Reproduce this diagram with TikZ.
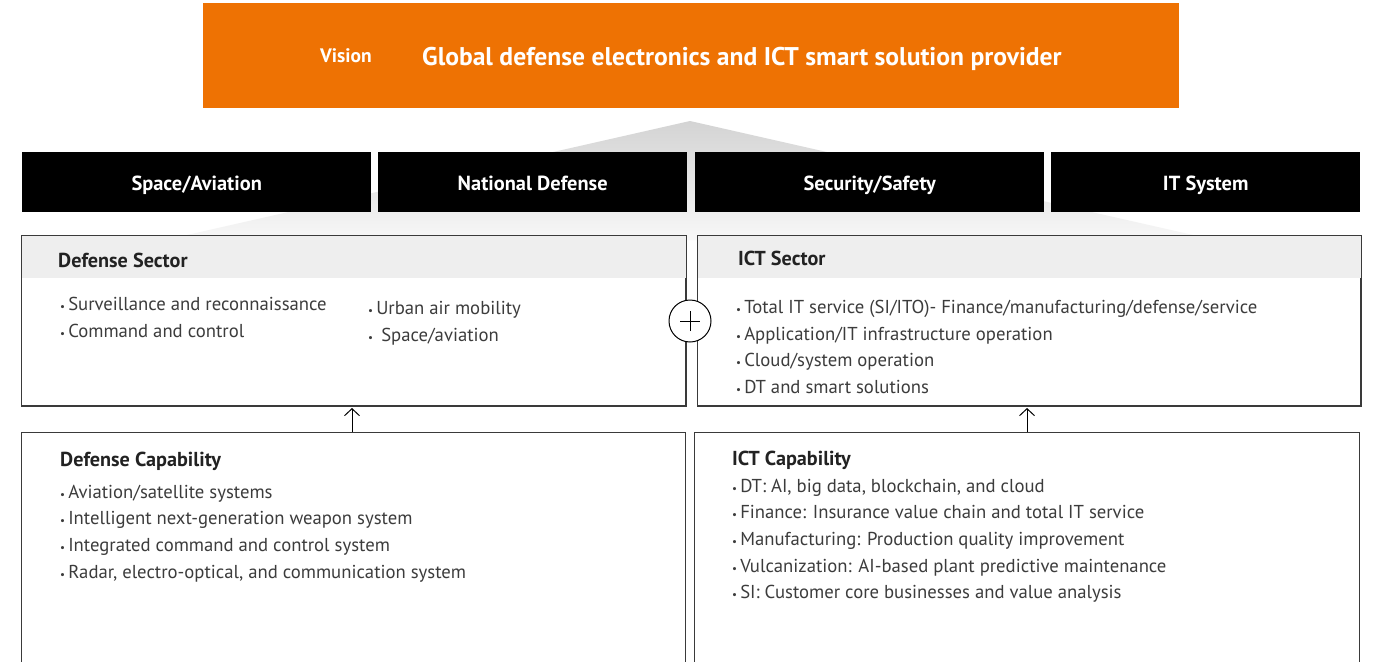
\documentclass[tikz,border=0pt]{standalone}
\usepackage{fontspec}
\setmainfont{PT Sans}
\usetikzlibrary{arrows.meta}
\definecolor{vorange}{HTML}{EE7203}
\definecolor{txt}{HTML}{3C3C3C}
\definecolor{ttl}{HTML}{222222}
\definecolor{hdr}{HTML}{EEEEEE}
\definecolor{bord}{HTML}{3A3A3A}
\newcommand\mybul{{\fontsize{11}{11}\selectfont•}\,}
\tikzset{
  box/.style={draw=bord, line width=1pt, fill=white, anchor=north west, inner sep=0pt},
  outline/.style={draw=bord, line width=1pt},
  bar/.style={fill=black, text=white, font=\fontsize{20.4}{22}\selectfont\bfseries, anchor=north west, inner sep=0pt, minimum height=60pt, text height=20pt, text depth=4pt},
  boxtitle/.style={anchor=west, text=ttl, font=\fontsize{20.2}{22}\selectfont\bfseries, inner sep=0pt, text height=18pt, text depth=4pt},
  item/.style={anchor=west, text=txt, font=\fontsize{18.7}{20}\selectfont, inner sep=0pt, text height=19pt, text depth=4pt},
  arr/.style={draw=black, line width=1pt, -{Straight Barb[length=7pt,width=15pt,line width=1pt]}},
}
\begin{document}
\begin{tikzpicture}[x=1pt,y=-1pt]
\clip (0,0) rectangle (1375,661);
\fill[white] (0,0) rectangle (1375,661);
% roof
\shade[top color=black!17, bottom color=black!3] (690,121) -- (1215,240) -- (165,240) -- cycle;
% vision
\node[fill=vorange, anchor=north west, minimum width=976pt, minimum height=105pt, inner sep=0pt] (vis) at (203,3) {};
\node[anchor=west, text=white, font=\fontsize{19.5}{22}\selectfont\bfseries, inner sep=0pt, text height=18pt, text depth=4pt] (vlab) at (320,56) {Vision};
\node[anchor=west, text=white, font=\fontsize{25.6}{28}\selectfont\bfseries, inner sep=0pt, text height=26pt, text depth=6pt] (vtxt) at (422,56) {Global defense electronics and ICT smart solution provider};
% bars
\node[bar, minimum width=349pt] (b1) at (22,152) {Space/Aviation};
\node[bar, minimum width=309pt] (b2) at (378,152) {National Defense};
\node[bar, minimum width=349pt] (b3) at (695,152) {Security/Safety};
\node[bar, minimum width=309pt] (b4) at (1051,152) {IT System};
% sector boxes
\node[box, minimum width=664pt, minimum height=170pt] (dsec) at (21,235) {};
\fill[hdr] (dsec.north west) rectangle ([yshift=-43pt]dsec.north east);
\draw[outline] (dsec.north west) rectangle (dsec.south east);
\node[box, minimum width=663pt, minimum height=170pt] (isec) at (697,235) {};
\fill[hdr] (isec.north west) rectangle ([yshift=-43pt]isec.north east);
\draw[outline] (isec.north west) rectangle (isec.south east);
\node[boxtitle] (dsect) at (58,260) {Defense Sector};
\node[boxtitle] (isect) at (738,258) {ICT Sector};
\node[item] (d1) at (60,303) {\mybul Surveillance and reconnaissance};
\node[item] (d2) at (60,330) {\mybul Command and control};
\node[item] (d3) at (368,307) {\mybul Urban air mobility};
\node[item] (d4) at (368,334) {\mybul\ Space/aviation};
\node[item] (i1) at (736,306) {\mybul Total IT service (SI/ITO)- Finance/manufacturing/defense/service};
\node[item] (i2) at (736,333) {\mybul Application/IT infrastructure operation};
\node[item] (i3) at (736,359) {\mybul Cloud/system operation};
\node[item] (i4) at (736,386) {\mybul DT and smart solutions};
% plus circle
\node[circle, draw=black, fill=white, line width=1pt, minimum size=42pt, inner sep=0pt] (plus) at (690,321) {};
\draw[line width=1pt] ([xshift=-10pt]plus.center) -- ([xshift=10pt]plus.center);
\draw[line width=1pt] ([yshift=-10pt]plus.center) -- ([yshift=10pt]plus.center);
% capability boxes
\node[box, minimum width=664pt, minimum height=260pt] (dcap) at (21,432) {};
\node[box, minimum width=665pt, minimum height=260pt] (icap) at (694,432) {};
\node[boxtitle] (dcapt) at (60,459) {Defense Capability};
\node[item] (c1) at (60,491) {\mybul Aviation/satellite systems};
\node[item] (c2) at (60,517) {\mybul Intelligent next-generation weapon system};
\node[item] (c3) at (60,544) {\mybul Integrated command and control system};
\node[item] (c4) at (60,571) {\mybul Radar, electro-optical, and communication system};
\node[boxtitle] (icapt) at (732,458) {ICT Capability};
\node[item] (e1) at (732,485) {\mybul DT: AI, big data, blockchain, and cloud};
\node[item] (e2) at (732,511) {\mybul Finance: Insurance value chain and total IT service};
\node[item] (e3) at (732,538) {\mybul Manufacturing: Production quality improvement};
\node[item] (e4) at (732,565) {\mybul Vulcanization: AI-based plant predictive maintenance};
\node[item] (e5) at (732,591) {\mybul SI: Customer core businesses and value analysis};
% arrows
\coordinate (ax1) at (352,0);
\coordinate (ax2) at (1027,0);
\draw[arr] (dcap.north -| ax1) -- ([yshift=-2pt]dsec.south -| ax1);
\draw[arr] (icap.north -| ax2) -- ([yshift=-2pt]isec.south -| ax2);
\end{tikzpicture}
\end{document}
